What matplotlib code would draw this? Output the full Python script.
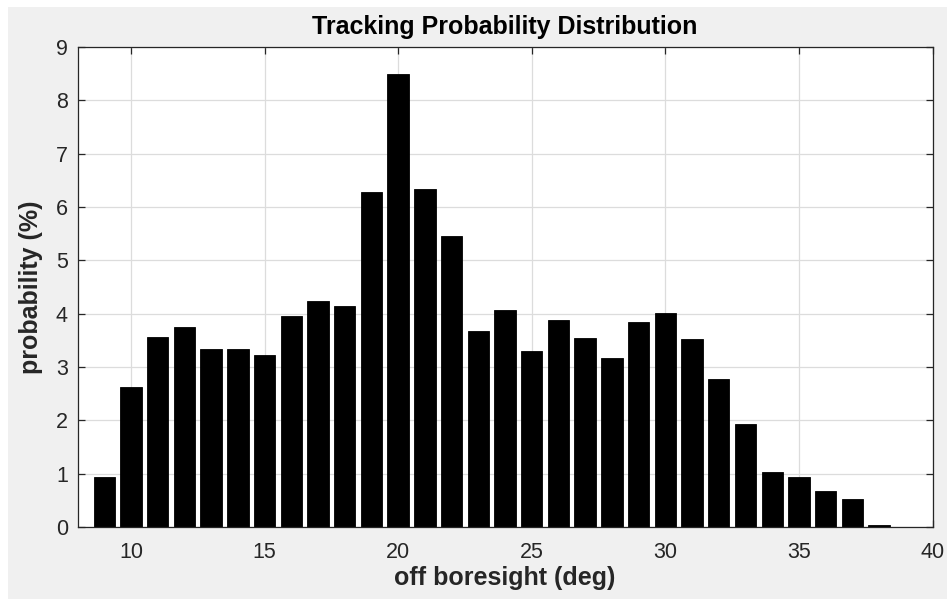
"""Tracking probability distribution versus off-boresight angle."""
import matplotlib
matplotlib.use("Agg")
import matplotlib.pyplot as plt
from matplotlib.patches import Rectangle

# off-boresight bin centres (deg) and probability per bin (%)
angles = list(range(9, 39))
probability = [0.94, 2.63, 3.56, 3.75, 3.33, 3.33, 3.23, 3.95, 4.23, 4.14,
               6.29, 8.49, 6.33, 5.46, 3.68, 4.07, 3.30, 3.88, 3.55, 3.17,
               3.84, 4.01, 3.52, 2.78, 1.94, 1.03, 0.93, 0.68, 0.52, 0.03]
x_ticks = [10, 15, 20, 25, 30, 35, 40]
y_ticks = list(range(0, 10))

AXIS_COLOR = "#262626"
BG = "#f0f0f0"
W, H = 947, 599

plt.rcParams["font.family"] = ["Liberation Sans", "DejaVu Sans"]

fig = plt.figure(figsize=(W / 100, H / 100), dpi=100, facecolor=BG)
# thin white margin along the top and left edge of the screenshot
fig.patches.append(Rectangle((0, 1 - 7 / H), 1, 7 / H,
                             transform=fig.transFigure, facecolor="white",
                             edgecolor="none", zorder=-10))
fig.patches.append(Rectangle((0, 0), 8 / W, 1,
                             transform=fig.transFigure, facecolor="white",
                             edgecolor="none", zorder=-10))

ax = fig.add_axes([77.5 / W, 1 - 527 / H, (932.5 - 77.5) / W, (527 - 47) / H])
ax.set_facecolor("white")

ax.bar(angles, probability, width=0.8, color="black", edgecolor="black",
       linewidth=0.6, zorder=3)

ax.set_xlim(8, 40)
ax.set_ylim(0, 9)
ax.set_xticks(x_ticks)
ax.set_yticks(y_ticks)
ax.grid(True, color="#dcdcdc", linewidth=0.9, zorder=0)
ax.set_axisbelow(True)

ax.tick_params(direction="in", length=5, width=0.9, colors=AXIS_COLOR,
               labelsize=15.5, top=True, right=True)
ax.tick_params(axis="x", pad=11)
ax.tick_params(axis="y", pad=7)
for spine in ax.spines.values():
    spine.set_color(AXIS_COLOR)
    spine.set_linewidth(0.9)
    spine.set_zorder(5)

ax.set_title("Tracking Probability Distribution", fontsize=18,
             fontweight="bold", color="black", pad=9.5)
ax.set_xlabel("off boresight (deg)", fontsize=18, fontweight="bold",
              color=AXIS_COLOR, labelpad=2)
ax.set_ylabel("probability (%)", fontsize=18, fontweight="bold",
              color=AXIS_COLOR, labelpad=9)

fig.savefig("out.png", dpi=100, facecolor=BG)
plt.close(fig)
